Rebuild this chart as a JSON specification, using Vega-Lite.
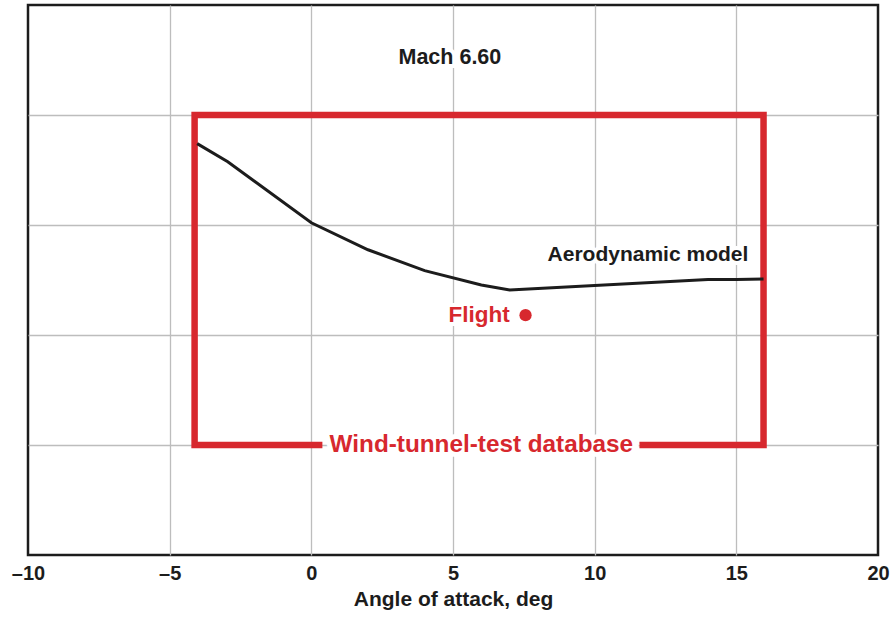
{
  "$schema": "https://vega.github.io/schema/vega-lite/v6.json",
  "autosize": "none",
  "width": 850,
  "height": 550,
  "padding": {"left": 28, "top": 5, "right": 16, "bottom": 63},
  "background": "white",
  "config": {
    "view": {"stroke": "#1c1c1c", "strokeWidth": 2.5},
    "font": "Liberation Sans"
  },
  "layer": [
    {
      "data": {"values": [
        {"i": 0, "x": 0.39, "y": 1},
        {"i": 1, "x": -4.12, "y": 1},
        {"i": 2, "x": -4.12, "y": 4},
        {"i": 3, "x": 15.96, "y": 4},
        {"i": 4, "x": 15.96, "y": 1},
        {"i": 5, "x": 11.58, "y": 1}
      ]},
      "mark": {"type": "line", "color": "#d7282e", "strokeWidth": 6.5, "strokeJoin": "miter", "strokeCap": "butt"},
      "encoding": {
        "x": {
          "field": "x", "type": "quantitative",
          "scale": {"domain": [-10, 20], "nice": false, "zero": false},
          "axis": {
            "values": [-10, -5, 0, 5, 10, 15, 20],
            "title": "Angle of attack, deg",
            "titleFont": "Liberation Sans",
            "titleFontSize": 21,
            "titleFontWeight": "bold",
            "titleColor": "#1c1c1c",
            "titlePadding": 5,
            "labelFont": "Liberation Sans",
            "labelFontSize": 20,
            "labelFontWeight": "bold",
            "labelColor": "#1c1c1c",
            "labelPadding": 8,
            "labelFlush": false,
            "labelOverlap": false,
            "labelExpr": "datum.value < 0 ? '–' + format(-datum.value, 'd') : datum.label",
            "ticks": false,
            "domain": false,
            "grid": true,
            "gridColor": "#bdbdbd",
            "gridWidth": 1.3,
            "gridOpacity": {"condition": {"test": "datum.value == -10 || datum.value == 20", "value": 0}, "value": 1}
          }
        },
        "y": {
          "field": "y", "type": "quantitative",
          "scale": {"domain": [0, 5], "nice": false, "zero": false},
          "axis": {
            "values": [1, 2, 3, 4],
            "title": null,
            "labels": false,
            "ticks": false,
            "domain": false,
            "grid": true,
            "gridColor": "#bdbdbd",
            "gridWidth": 1.3
          }
        },
        "order": {"field": "i", "type": "quantitative"}
      }
    },
    {
      "data": {"values": [
        {"x": -4.03, "y": 3.74},
        {"x": -2.95, "y": 3.575},
        {"x": 0, "y": 3.02},
        {"x": 2, "y": 2.775},
        {"x": 4, "y": 2.585},
        {"x": 6, "y": 2.455},
        {"x": 7, "y": 2.41},
        {"x": 14, "y": 2.505},
        {"x": 15, "y": 2.505},
        {"x": 15.96, "y": 2.51}
      ]},
      "mark": {"type": "line", "color": "#1c1c1c", "strokeWidth": 3},
      "encoding": {
        "x": {"field": "x", "type": "quantitative"},
        "y": {"field": "y", "type": "quantitative"}
      }
    },
    {
      "data": {"values": [{"x": 7.56, "y": 2.18}]},
      "mark": {"type": "point", "filled": true, "opacity": 1, "color": "#d7282e", "size": 150},
      "encoding": {
        "x": {"field": "x", "type": "quantitative"},
        "y": {"field": "y", "type": "quantitative"}
      }
    },
    {
      "data": {"values": [{"label": "Mach 6.60", "x": 4.89, "y": 4.52}]},
      "layer": [
        {"mark": {"type": "text", "font": "Liberation Sans", "fontWeight": "bold", "fontSize": 21.5, "align": "center", "baseline": "middle", "stroke": "white", "strokeWidth": 8, "color": "white"}},
        {"mark": {"type": "text", "font": "Liberation Sans", "fontWeight": "bold", "fontSize": 21.5, "align": "center", "baseline": "middle", "color": "#1c1c1c"}}
      ],
      "encoding": {
        "x": {"field": "x", "type": "quantitative"},
        "y": {"field": "y", "type": "quantitative"},
        "text": {"field": "label"}
      }
    },
    {
      "data": {"values": [{"label": "Aerodynamic model", "x": 11.88, "y": 2.727}]},
      "layer": [
        {"mark": {"type": "text", "font": "Liberation Sans", "fontWeight": "bold", "fontSize": 21, "align": "center", "baseline": "middle", "stroke": "white", "strokeWidth": 8, "color": "white"}},
        {"mark": {"type": "text", "font": "Liberation Sans", "fontWeight": "bold", "fontSize": 21, "align": "center", "baseline": "middle", "color": "#1c1c1c"}}
      ],
      "encoding": {
        "x": {"field": "x", "type": "quantitative"},
        "y": {"field": "y", "type": "quantitative"},
        "text": {"field": "label"}
      }
    },
    {
      "data": {"values": [{"label": "Flight", "x": 7.0, "y": 2.18}]},
      "layer": [
        {"mark": {"type": "text", "font": "Liberation Sans", "fontWeight": "bold", "fontSize": 22.5, "align": "right", "baseline": "middle", "stroke": "white", "strokeWidth": 8, "color": "white"}},
        {"mark": {"type": "text", "font": "Liberation Sans", "fontWeight": "bold", "fontSize": 22.5, "align": "right", "baseline": "middle", "color": "#d7282e"}}
      ],
      "encoding": {
        "x": {"field": "x", "type": "quantitative"},
        "y": {"field": "y", "type": "quantitative"},
        "text": {"field": "label"}
      }
    },
    {
      "data": {"values": [{"label": "Wind-tunnel-test database", "x": 6.0, "y": 1.0}]},
      "layer": [
        {"mark": {"type": "text", "font": "Liberation Sans", "fontWeight": "bold", "fontSize": 24.3, "align": "center", "baseline": "middle", "stroke": "white", "strokeWidth": 10, "color": "white"}},
        {"mark": {"type": "text", "font": "Liberation Sans", "fontWeight": "bold", "fontSize": 24.3, "align": "center", "baseline": "middle", "color": "#d7282e"}}
      ],
      "encoding": {
        "x": {"field": "x", "type": "quantitative"},
        "y": {"field": "y", "type": "quantitative"},
        "text": {"field": "label"}
      }
    }
  ]
}
